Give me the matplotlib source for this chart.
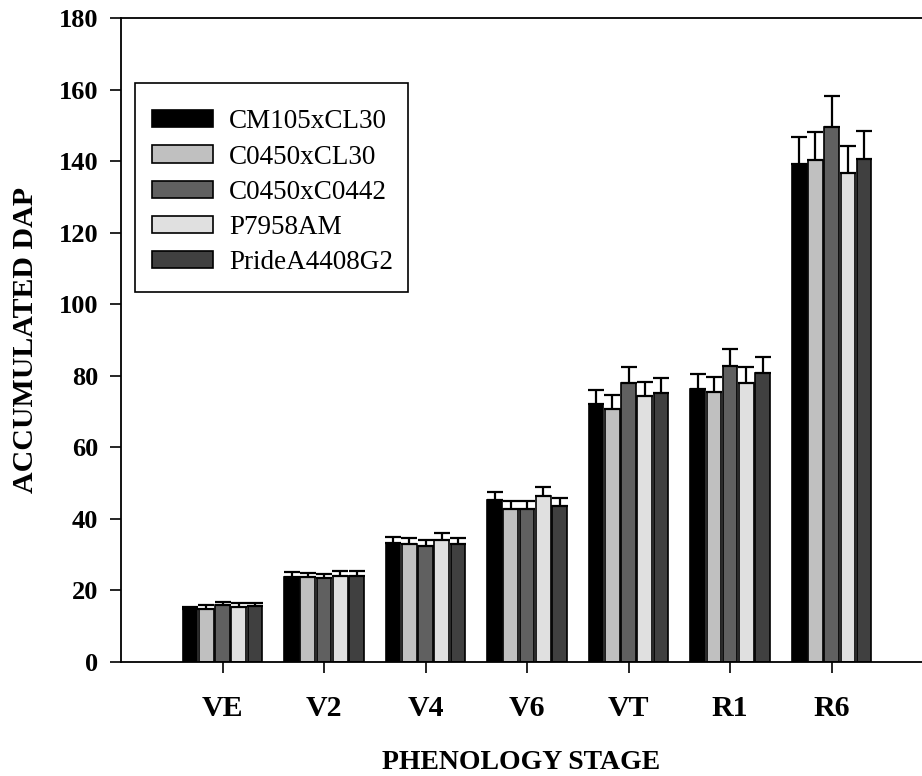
import matplotlib
matplotlib.use('Agg')
import matplotlib.pyplot as plt
from matplotlib.patches import Rectangle
import numpy as np

plt.rcParams['font.family'] = ['Liberation Serif', 'DejaVu Serif']

STAGES = ['VE', 'V2', 'V4', 'V6', 'VT', 'R1', 'R6']
SERIES = ['CM105xCL30', 'C0450xCL30', 'C0450xC0442', 'P7958AM', 'PrideA4408G2']
COLORS = ['#000000', '#c0c0c0', '#606060', '#e0e0e0', '#404040']

cm105_cl30 = [14.7, 23.8, 33.2, 45.2, 72.1, 76.3, 139.2]
cm105_cl30_err = [0.6, 1.3, 1.6, 2.4, 3.8, 4.2, 7.7]
c0450_cl30 = [14.8, 23.8, 33.0, 42.7, 70.6, 75.5, 140.4]
c0450_cl30_err = [1.1, 1.1, 1.5, 2.3, 4.0, 4.2, 7.9]
c0450_c0442 = [15.9, 23.3, 32.5, 42.6, 78.1, 82.8, 149.7]
c0450_c0442_err = [0.8, 1.2, 1.5, 2.4, 4.4, 4.7, 8.6]
p7958am = [15.4, 24.0, 34.0, 46.4, 74.3, 78.0, 136.7]
p7958am_err = [0.9, 1.3, 1.9, 2.6, 4.0, 4.5, 7.6]
pride_a4408g2 = [15.6, 24.0, 32.8, 43.6, 75.2, 80.7, 140.6]
pride_a4408g2_err = [0.9, 1.4, 1.9, 2.3, 4.2, 4.5, 7.9]

MEANS = [cm105_cl30, c0450_cl30, c0450_c0442, p7958am, pride_a4408g2]
ERRORS = [cm105_cl30_err, c0450_cl30_err, c0450_c0442_err, p7958am_err, pride_a4408g2_err]

BAR_PITCH = 0.16
BAR_WIDTH = 0.145


def main():
    fig = plt.figure(figsize=(9.22, 7.76), dpi=100)
    ax = fig.add_axes([121 / 922, 114.3 / 776, 801 / 922, 643.4 / 776])

    x = np.arange(1, len(STAGES) + 1)
    for i, (name, color, means, errs) in enumerate(zip(SERIES, COLORS, MEANS, ERRORS)):
        pos = x + (i - 2) * BAR_PITCH
        ax.bar(pos, means, width=BAR_WIDTH, color=color, edgecolor='black',
               linewidth=1.2, label=name, zorder=2)
        ax.errorbar(pos, means, yerr=[np.zeros(len(errs)), errs], fmt='none',
                    ecolor='black', elinewidth=1.6, capsize=5.8, capthick=1.6, zorder=3)

    ax.set_xlim(0, 7.89)
    ax.set_ylim(0, 180)
    ax.set_yticks(range(0, 181, 20))
    ax.set_xticks(x)
    ax.set_xticklabels(STAGES)
    ax.spines['right'].set_visible(False)
    for side in ['left', 'bottom', 'top']:
        ax.spines[side].set_linewidth(1.3)
    ax.tick_params(axis='both', direction='out', length=8, width=1.2)
    ax.tick_params(axis='y', pad=8.5, labelsize=19)
    ax.tick_params(axis='x', pad=16, labelsize=21.5)
    for lab in ax.get_xticklabels() + ax.get_yticklabels():
        lab.set_fontweight('bold')

    ax.set_xlabel('PHENOLOGY STAGE', fontsize=20, fontweight='bold', labelpad=20)
    ax.set_ylabel('ACCUMULATED DAP', fontsize=21.5, fontweight='bold', labelpad=14)

    # legend box drawn by hand so the top padding can be larger than the side one
    ax.add_patch(Rectangle((0.0175, 0.5746), 0.3408, 0.3248, transform=ax.transAxes,
                           facecolor='white', edgecolor='black', linewidth=1.2, zorder=4))
    leg = ax.legend(loc='upper left', bbox_to_anchor=(0.0383, 0.8587), borderaxespad=0,
                    borderpad=0, frameon=False, fontsize=19.5,
                    handlelength=2.25, handleheight=0.6, handletextpad=0.6,
                    labelspacing=0.38)
    leg.set_zorder(5)

    fig.savefig('out.png', dpi=100)


if __name__ == '__main__':
    main()
